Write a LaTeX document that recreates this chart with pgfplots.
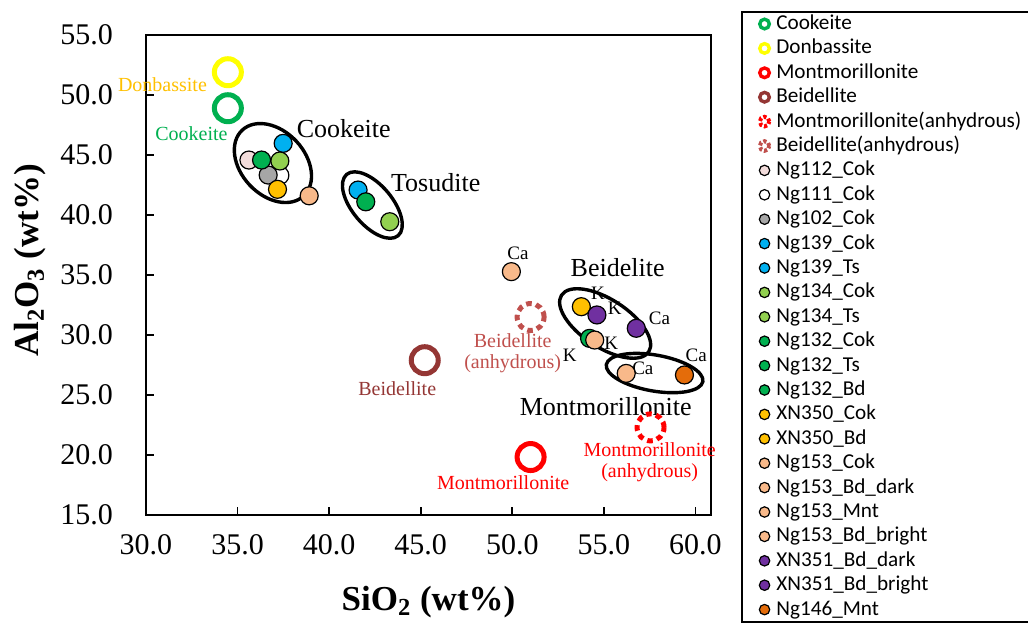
\documentclass[border=0pt]{standalone}
\usepackage{fontspec}
\setmainfont{Liberation Serif}
\newfontfamily\carlito{Carlito}
\usepackage{pgfplots}
\pgfplotsset{compat=1.18}
\usetikzlibrary{shapes.geometric}
\definecolor{cGreen}{HTML}{00B050}
\definecolor{cYellow}{HTML}{FFFF00}
\definecolor{cGold}{HTML}{FFC000}
\definecolor{cRed}{HTML}{FF0000}
\definecolor{cBrown}{HTML}{943634}
\definecolor{cRose}{HTML}{C0504D}
\definecolor{cPink}{HTML}{F2DCDB}
\definecolor{cGray}{HTML}{A6A6A6}
\definecolor{cBlue}{HTML}{00B0F0}
\definecolor{cLGreen}{HTML}{92D050}
\definecolor{cPeach}{HTML}{F8B98A}
\definecolor{cPurple}{HTML}{7030A0}
\definecolor{cOrange}{HTML}{E46C0A}
\newcommand{\samp}[1]{\addlegendimage{legend image code/.code={\draw[fill=#1, line width=0.6pt] (0pt,0pt) circle (2.6pt);}}}
\newcommand{\ring}[1]{\addlegendimage{legend image code/.code={\draw[draw=#1, line width=1.7pt] (0pt,0pt) circle (2.4pt);}}}
\newcommand{\dring}[1]{\addlegendimage{legend image code/.code={\draw[draw=#1, line width=2pt, dash pattern=on 1.6pt off 1.1pt] (0pt,0pt) circle (2.4pt);}}}
\begin{document}
\begin{tikzpicture}
\begin{axis}[
  name=ax,
  scale only axis, width=282.5pt, height=240pt,
  xmin=30, xmax=60.85, ymin=15, ymax=55,
  xtick={30,35,...,60}, ytick={15,20,...,55},
  tick align=inside, tick pos=left, major tick length=4pt,
  axis line style={line width=0.8pt},
  tick style={line width=0.8pt, black},
  /pgf/number format/fixed, /pgf/number format/fixed zerofill,
  /pgf/number format/precision=1, /pgf/number format/assume math mode=true,
  ticklabel style={font=\fontsize{15}{18}\selectfont},
  xticklabel style={yshift=-6pt}, yticklabel style={xshift=-13pt},
  xlabel={\textbf{SiO\textsubscript{2} (wt\%)}},
  ylabel={\textbf{Al\textsubscript{2}O\textsubscript{3} (wt\%)}},
  xlabel style={font=\fontsize{17.5}{20}\selectfont, at={(axis description cs:0.5,-0.181)}, anchor=center},
  ylabel style={font=\fontsize{17.5}{20}\selectfont, at={(axis description cs:-0.205,0.53)}, anchor=center},
  clip=false,
  legend style={at={(rel axis cs:1.053,1.05)}, anchor=north west, draw=black, line width=0.8pt,
    font=\carlito\fontsize{10.6}{12}\selectfont, inner xsep=8pt, inner ysep=0pt, row sep=0pt,
    nodes={text height=8pt, text depth=2.6pt, inner ysep=0.8pt, inner xsep=2.5pt}},
  legend cell align=left,
]
% reference minerals
\addplot[only marks, mark=o, mark size=6.75pt, mark options={draw=cGreen, line width=2.5pt}, forget plot] coordinates {(34.47,48.9)};
\addplot[only marks, mark=o, mark size=6.75pt, mark options={draw=cYellow, line width=2.5pt}, forget plot] coordinates {(34.47,51.9)};
\addplot[only marks, mark=o, mark size=6.75pt, mark options={draw=cRed, line width=2.5pt}, forget plot] coordinates {(51.0,19.83)};
\addplot[only marks, mark=o, mark size=6.75pt, mark options={draw=cBrown, line width=2.5pt}, forget plot] coordinates {(45.22,27.9)};
\addplot[only marks, mark=o, mark size=6.75pt, mark options={draw=cRed, line width=2.5pt, dash pattern=on 2.8pt off 2.2pt}, forget plot] coordinates {(57.55,22.3)};
\addplot[only marks, mark=o, mark size=6.75pt, mark options={draw=cRose, line width=2.5pt, dash pattern=on 2.8pt off 2.2pt}, forget plot] coordinates {(51.0,31.5)};
% samples
\addplot[only marks, mark=*, mark size=4.5pt, mark options={draw=black, fill=cPink, line width=0.6pt}, forget plot] coordinates {(35.62,44.58)};
\addplot[only marks, mark=*, mark size=4.5pt, mark options={draw=black, fill=white, line width=0.6pt}, forget plot] coordinates {(37.31,43.3)};
\addplot[only marks, mark=*, mark size=4.5pt, mark options={draw=black, fill=cGray, line width=0.6pt}, forget plot] coordinates {(36.67,43.33)};
\addplot[only marks, mark=*, mark size=4.5pt, mark options={draw=black, fill=cBlue, line width=0.6pt}, forget plot] coordinates {(37.49,45.97)};
\addplot[only marks, mark=*, mark size=4.5pt, mark options={draw=black, fill=cBlue, line width=0.6pt}, forget plot] coordinates {(41.58,42.08)};
\addplot[only marks, mark=*, mark size=4.5pt, mark options={draw=black, fill=cLGreen, line width=0.6pt}, forget plot] coordinates {(37.31,44.5)};
\addplot[only marks, mark=*, mark size=4.5pt, mark options={draw=black, fill=cLGreen, line width=0.6pt}, forget plot] coordinates {(43.31,39.44)};
\addplot[only marks, mark=*, mark size=4.5pt, mark options={draw=black, fill=cGreen, line width=0.6pt}, forget plot] coordinates {(36.31,44.58)};
\addplot[only marks, mark=*, mark size=4.5pt, mark options={draw=black, fill=cGreen, line width=0.6pt}, forget plot] coordinates {(42.0,41.1)};
\addplot[only marks, mark=*, mark size=4.5pt, mark options={draw=black, fill=cGreen, line width=0.6pt}, forget plot] coordinates {(54.22,29.72)};
\addplot[only marks, mark=*, mark size=4.5pt, mark options={draw=black, fill=cGold, line width=0.6pt}, forget plot] coordinates {(37.18,42.14)};
\addplot[only marks, mark=*, mark size=4.5pt, mark options={draw=black, fill=cGold, line width=0.6pt}, forget plot] coordinates {(53.77,32.36)};
\addplot[only marks, mark=*, mark size=4.5pt, mark options={draw=black, fill=cPeach, line width=0.6pt}, forget plot] coordinates {(38.91,41.6)};
\addplot[only marks, mark=*, mark size=4.5pt, mark options={draw=black, fill=cPeach, line width=0.6pt}, forget plot] coordinates {(49.95,35.28)};
\addplot[only marks, mark=*, mark size=4.5pt, mark options={draw=black, fill=cPeach, line width=0.6pt}, forget plot] coordinates {(56.22,26.8)};
\addplot[only marks, mark=*, mark size=4.5pt, mark options={draw=black, fill=cPeach, line width=0.6pt}, forget plot] coordinates {(54.5,29.58)};
\addplot[only marks, mark=*, mark size=4.5pt, mark options={draw=black, fill=cPurple, line width=0.6pt}, forget plot] coordinates {(54.62,31.67)};
\addplot[only marks, mark=*, mark size=4.5pt, mark options={draw=black, fill=cPurple, line width=0.6pt}, forget plot] coordinates {(56.77,30.56)};
\addplot[only marks, mark=*, mark size=4.5pt, mark options={draw=black, fill=cOrange, line width=0.6pt}, forget plot] coordinates {(59.4,26.67)};
% ellipses
\node[draw, ellipse, line width=1.7pt, minimum width=45pt, minimum height=32pt, rotate=-47, inner sep=0pt] at (axis cs:36.93,44.33) {};
\node[draw, ellipse, line width=1.7pt, minimum width=40pt, minimum height=20pt, rotate=-50, inner sep=0pt] at (axis cs:42.36,40.83) {};
\node[draw, ellipse, line width=1.7pt, minimum width=52pt, minimum height=24pt, rotate=-33, inner sep=0pt] at (axis cs:55.07,30.96) {};
\node[draw, ellipse, line width=1.7pt, minimum width=49pt, minimum height=18pt, rotate=-10, inner sep=0pt] at (axis cs:57.77,26.83) {};
% group labels
\node[font=\fontsize{13}{15}\selectfont] at (axis cs:40.8,47.17) {Cookeite};
\node[font=\fontsize{13}{15}\selectfont] at (axis cs:45.82,42.67) {Tosudite};
\node[font=\fontsize{13}{15}\selectfont] at (axis cs:55.75,35.58) {Beidelite};
\node[font=\fontsize{13}{15}\selectfont] at (axis cs:55.1,24.0) {Montmorillonite};
% mineral labels
\node[font=\fontsize{10}{10.5}\selectfont, text=cGold] at (axis cs:30.9,50.83) {Donbassite};
\node[font=\fontsize{10}{10.5}\selectfont, text=cGreen] at (axis cs:32.48,46.75) {Cookeite};
\node[font=\fontsize{10}{10.5}\selectfont, text=cBrown] at (axis cs:43.72,25.5) {Beidellite};
\node[font=\fontsize{10}{10.5}\selectfont, text=cRose, align=center] at (axis cs:50.02,28.46) {Beidellite\\(anhydrous)};
\node[font=\fontsize{10}{10.5}\selectfont, text=cRed] at (axis cs:49.5,17.67) {Montmorillonite};
\node[font=\fontsize{10}{10.5}\selectfont, text=cRed, align=center] at (axis cs:57.5,19.375) {Montmorillonite\\(anhydrous)};
% cation labels
\node[font=\fontsize{9.5}{10}\selectfont] at (axis cs:50.31,36.8) {Ca};
\node[font=\fontsize{9.5}{10}\selectfont] at (axis cs:54.68,33.47) {K};
\node[font=\fontsize{9.5}{10}\selectfont] at (axis cs:55.59,32.22) {K};
\node[font=\fontsize{9.5}{10}\selectfont] at (axis cs:58.04,31.39) {Ca};
\node[font=\fontsize{9.5}{10}\selectfont] at (axis cs:53.13,28.33) {K};
\node[font=\fontsize{9.5}{10}\selectfont] at (axis cs:55.4,29.3) {K};
\node[font=\fontsize{9.5}{10}\selectfont] at (axis cs:57.13,27.22) {Ca};
\node[font=\fontsize{9.5}{10}\selectfont] at (axis cs:60.04,28.33) {Ca};
% legend
\ring{cGreen}\addlegendentry{Cookeite}
\ring{cYellow}\addlegendentry{Donbassite}
\ring{cRed}\addlegendentry{Montmorillonite}
\ring{cBrown}\addlegendentry{Beidellite}
\dring{cRed}\addlegendentry{Montmorillonite(anhydrous)}
\dring{cRose}\addlegendentry{Beidellite(anhydrous)}
\samp{cPink}\addlegendentry{Ng112\_Cok}
\samp{white}\addlegendentry{Ng111\_Cok}
\samp{cGray}\addlegendentry{Ng102\_Cok}
\samp{cBlue}\addlegendentry{Ng139\_Cok}
\samp{cBlue}\addlegendentry{Ng139\_Ts}
\samp{cLGreen}\addlegendentry{Ng134\_Cok}
\samp{cLGreen}\addlegendentry{Ng134\_Ts}
\samp{cGreen}\addlegendentry{Ng132\_Cok}
\samp{cGreen}\addlegendentry{Ng132\_Ts}
\samp{cGreen}\addlegendentry{Ng132\_Bd}
\samp{cGold}\addlegendentry{XN350\_Cok}
\samp{cGold}\addlegendentry{XN350\_Bd}
\samp{cPeach}\addlegendentry{Ng153\_Cok}
\samp{cPeach}\addlegendentry{Ng153\_Bd\_dark}
\samp{cPeach}\addlegendentry{Ng153\_Mnt}
\samp{cPeach}\addlegendentry{Ng153\_Bd\_bright}
\samp{cPurple}\addlegendentry{XN351\_Bd\_dark}
\samp{cPurple}\addlegendentry{XN351\_Bd\_bright}
\samp{cOrange}\addlegendentry{Ng146\_Mnt}
\end{axis}
\pgfresetboundingbox
\path[use as bounding box] ([xshift=-73pt,yshift=-53.5pt]ax.south west) rectangle ([xshift=441pt,yshift=257.5pt]ax.south west);
\end{tikzpicture}
\end{document}
